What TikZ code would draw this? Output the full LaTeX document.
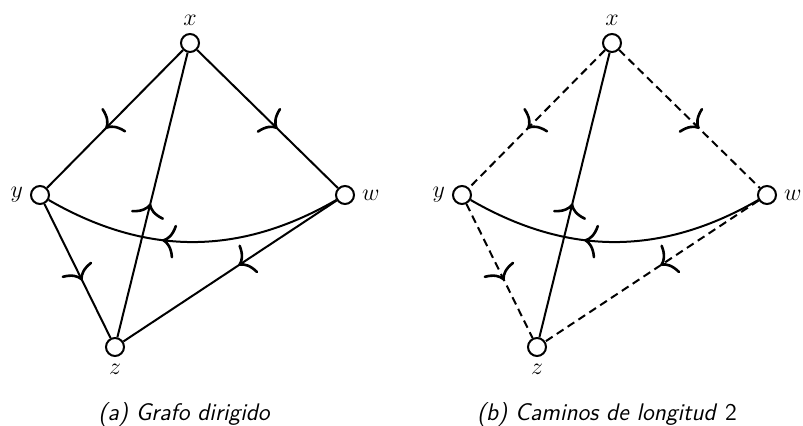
\documentclass[tikz,border=0pt]{standalone}
\usetikzlibrary{arrows.meta,decorations.markings}

\begin{document}
\begin{tikzpicture}[x=0.5pt, y=-0.5pt, font=\large,
  vert/.style={circle, draw, line width=1pt, fill=white, minimum size=9pt, inner sep=0pt, label distance=0.5pt},
  edge/.style={line width=1pt, postaction={decorate}, decoration={markings, mark=at position #1 with {\arrow{Computer Modern Rightarrow[length=6.5pt, width=17pt, line width=1.3pt]}}}},
  edge/.default=0.57,
  walk/.style={edge=#1, dash pattern=on 4pt off 2.5pt},
  walk/.default=0.57,
  caption/.style={font=\large\sffamily\slshape, anchor=base}
]
\useasboundingbox (0,0) rectangle (803,426);
% (a) grafo dirigido
\node[vert, label=above:$x$] (ax) at (190,43) {};
\node[vert, label=left:$y$] (ay) at (40,195) {};
\node[vert, label=right:$w$] (aw) at (345,195) {};
\node[vert, label=below:$z$] (az) at (115,347) {};
\draw[edge] (ax) -- (ay);
\draw[edge] (ax) -- (aw);
\draw[edge] (ay) -- (az);
\draw[edge=0.46] (aw) -- (az);
\draw[edge=0.47] (az) -- (ax);
\draw[edge=0.6] (aw) to[bend left=30] (ay);
\node[caption] (capa) at (184,421) {(a) Grafo dirigido};
% (b) caminos de longitud 2
\node[vert, label=above:$x$] (bx) at (612,43) {};
\node[vert, label=left:$y$] (by) at (462,195) {};
\node[vert, label=right:$w$] (bw) at (767,195) {};
\node[vert, label=below:$z$] (bz) at (537,347) {};
\draw[walk] (bx) -- (by);
\draw[walk] (bx) -- (bw);
\draw[walk] (by) -- (bz);
\draw[walk=0.46] (bw) -- (bz);
\draw[edge=0.47] (bz) -- (bx);
\draw[edge=0.6] (bw) to[bend left=30] (by);
\node[caption] (capb) at (607,421) {(b) Caminos de longitud \textup{2}};
\end{tikzpicture}
\end{document}
